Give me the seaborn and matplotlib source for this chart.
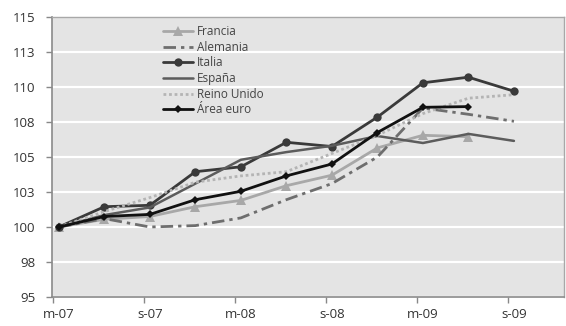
import numpy as np
import pandas as pd
import matplotlib
matplotlib.use("Agg")
import matplotlib.pyplot as plt
import seaborn as sns

# Quarterly index (March 2007 = 100)
periods = ["m-07", "j-07", "s-07", "d-07", "m-08", "j-08", "s-08", "d-08", "m-09", "j-09", "s-09"]
tick_labels = ["m-07", "s-07", "m-08", "s-08", "m-09", "s-09"]

francia = [100.0, 100.55, 100.75, 101.45, 101.9, 102.95, 103.7, 105.65, 106.55, 106.45, np.nan]
alemania = [100.0, 100.6, 100.0, 100.1, 100.65, 101.95, 103.1, 105.0, 108.5, 108.05, 107.55]
italia = [100.0, 101.45, 101.55, 103.95, 104.3, 106.05, 105.75, 107.85, 110.3, 110.7, 109.7]
espana = [100.0, 100.85, 101.4, 103.1, 104.8, 105.35, 105.8, 106.5, 106.0, 106.65, 106.15]
reino_unido = [100.0, 101.1, 102.1, 103.2, 103.65, 103.95, 105.25, 106.55, 108.1, 109.2, 109.45]
area_euro = [100.0, 100.75, 100.9, 101.95, 102.55, 103.65, 104.5, 106.75, 108.55, 108.6, np.nan]

y_ticks = [95, 97.5, 100, 102.5, 105, 107.5, 110, 112.5, 115]
y_tick_labels = ["95", "98", "100", "103", "105", "108", "110", "113", "115"]

series = [
    ("Francia", francia, dict(color="#a8a8a8", marker="^", markersize=6.5, linewidth=2.0, linestyle="-")),
    ("Alemania", alemania, dict(color="#6e6e6e", marker=None, linewidth=2.0, linestyle=(0, (4.5, 1.8, 1.2, 1.8)))),
    ("Italia", italia, dict(color="#3a3a3a", marker="o", markersize=6, linewidth=2.0, linestyle="-")),
    ("España", espana, dict(color="#5c5c5c", marker=None, linewidth=1.8, linestyle="-")),
    ("Reino Unido", reino_unido, dict(color="#b4b4b4", marker=None, linewidth=2.0, linestyle=(0, (1, 1)))),
    ("Área euro", area_euro, dict(color="#111111", marker="D", markersize=4.5, linewidth=2.0, linestyle="-")),
]

sns.set_theme(style="white")
plt.rcParams["font.family"] = ["Open Sans", "DejaVu Sans"]

fig = plt.figure(figsize=(5.66, 3.26), dpi=100)
ax = fig.add_axes([52 / 566, 29 / 326, 512 / 566, 280 / 326])
ax.set_facecolor("#e4e4e4")

x = np.arange(len(periods))
for name, values, style in series:
    sns.lineplot(x=x, y=values, ax=ax, label=name, markeredgewidth=0, **style)

ax.set_xlim(-0.15, 11.1)
ax.set_ylim(95, 115)

ax.set_yticks(y_ticks)
ax.set_yticklabels(y_tick_labels)
ax.yaxis.grid(True, color="white", linewidth=1.6)
ax.xaxis.grid(False)
ax.set_axisbelow(True)

# labels sit under every other quarter; tick marks slightly to their left
ax.set_xticks(x[::2])
ax.set_xticklabels(tick_labels)
ax.set_xticks(x[::2] - 0.13, minor=True)
ax.tick_params(axis="x", which="major", length=0, pad=8, labelsize=9.5, labelcolor="#333333")
ax.tick_params(axis="x", which="minor", length=4, width=1, color="#888888", direction="out", bottom=True)
ax.tick_params(axis="y", length=4, width=1, color="#888888", direction="out", left=True, pad=8,
               labelsize=9.5, labelcolor="#333333")

for side in ["left", "bottom"]:
    ax.spines[side].set_color("#8a8a8a")
    ax.spines[side].set_linewidth(1.2)
for side in ["top", "right"]:
    ax.spines[side].set_color("#a8a8a8")
    ax.spines[side].set_linewidth(1.0)

ax.set_xlabel("")
ax.set_ylabel("")

leg = ax.legend(loc="upper left", bbox_to_anchor=(0.2, 1.0), frameon=False, fontsize=8.5,
                handlelength=2.6, handletextpad=0.3, labelspacing=0.22, borderaxespad=0.3)
for t in leg.get_texts():
    t.set_color("#444444")

fig.savefig("out.png", dpi=100)
